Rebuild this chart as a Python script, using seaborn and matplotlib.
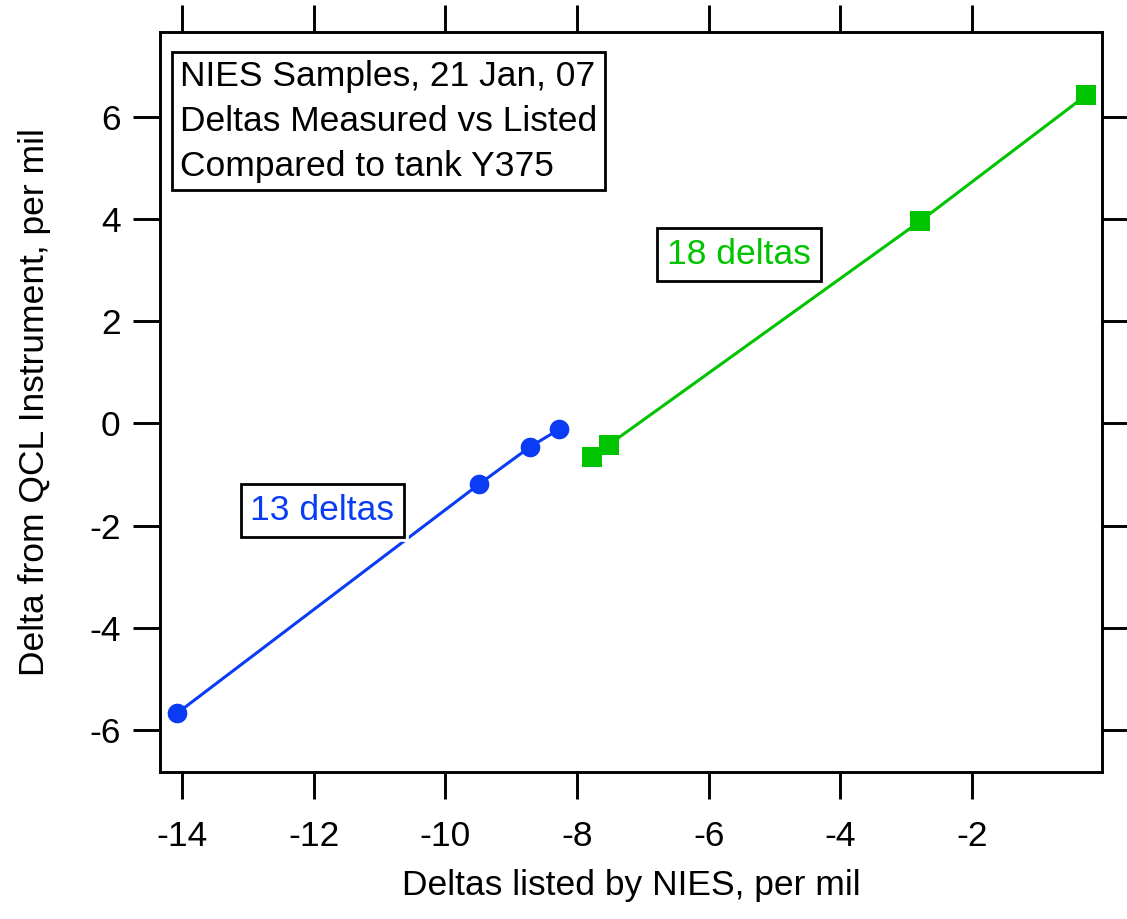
import matplotlib
matplotlib.use("Agg")
import matplotlib.pyplot as plt
import seaborn as sns
import pandas as pd

# NIES sample deltas: listed value vs value measured by the QCL instrument
blue_x = [-14.08, -9.49, -8.71, -8.27]
blue_y = [-5.67, -1.19, -0.455, -0.115]
green_x = [-7.77, -7.52, -2.78, -0.26]
green_y = [-0.665, -0.42, 3.96, 6.42]

x_ticks = [-14, -12, -10, -8, -6, -4, -2]
y_ticks = [-6, -4, -2, 0, 2, 4, 6]

info_text = "NIES Samples, 21 Jan, 07\nDeltas Measured vs Listed\nCompared to tank Y375"
blue_label = "13 deltas"
green_label = "18 deltas"

BLUE = "#0A3CF5"
GREEN = "#00C400"
FS = 25.5

sns.set_theme(style="white")
plt.rcParams["font.family"] = ["Liberation Sans", "DejaVu Sans"]
plt.rcParams["axes.unicode_minus"] = False

fig = plt.figure(figsize=(11.27, 9.19), dpi=100)
W, H = 1127, 919
ax = fig.add_axes([160 / W, 1 - 772 / H, (1102 - 160) / W, (772 - 32) / H])

blue_df = pd.DataFrame({"x": blue_x, "y": blue_y})
green_df = pd.DataFrame({"x": green_x, "y": green_y})

sns.lineplot(data=blue_df, x="x", y="y", sort=False, estimator=None,
             color=BLUE, linewidth=2.2, ax=ax, zorder=2)
sns.lineplot(data=green_df.iloc[1:], x="x", y="y", sort=False, estimator=None,
             color=GREEN, linewidth=2.2, ax=ax, zorder=2)
sns.scatterplot(data=blue_df, x="x", y="y", marker="o", s=200,
                color=BLUE, edgecolor=BLUE, linewidth=0, ax=ax, zorder=3)
sns.scatterplot(data=green_df, x="x", y="y", marker="s", s=210,
                color=GREEN, edgecolor=GREEN, linewidth=0, ax=ax, zorder=3)

ax.set_xlim(-14.34, -0.02)
ax.set_ylim(-6.82, 7.657)
ax.set_xticks(x_ticks)
ax.set_yticks(y_ticks)
ax.set_xticklabels([str(t) for t in x_ticks])
ax.set_yticklabels([str(t) for t in y_ticks])

for sp in ax.spines.values():
    sp.set_visible(True)
    sp.set_color("black")
    sp.set_linewidth(2.1)

ax.tick_params(axis="both", which="major", direction="out", length=19.5,
               width=2.1, color="black", labelsize=FS, labelcolor="black",
               top=True, right=True, bottom=True, left=True,
               labeltop=False, labelright=False)
ax.tick_params(axis="x", pad=15)
ax.tick_params(axis="y", pad=9)

ax.set_xlabel("Deltas listed by NIES, per mil", fontsize=FS, color="black")
ax.set_ylabel("Delta from QCL Instrument, per mil", fontsize=FS, color="black")
ax.xaxis.set_label_coords(0.5, (772 - 886) / 740)
ax.yaxis.set_label_coords((35 - 160) / 942, 0.5)
ax.xaxis.label.set_va("center")
ax.yaxis.label.set_va("center")

# info box in the upper-left corner
ax.text(0.0215, 0.962, info_text, transform=ax.transAxes, fontsize=FS,
        ha="left", va="top", linespacing=1.45, color="black", zorder=5,
        bbox=dict(boxstyle="square,pad=0.22", fc="white", ec="black", lw=2.0))

# series labels; the white halo keeps the line clear of the frame
for lx, ly, txt, col in [(-11.87, -1.70, blue_label, BLUE),
                         (-5.535, 3.31, green_label, GREEN)]:
    ax.text(lx, ly, txt, fontsize=FS, ha="center", va="center", color=col,
            zorder=4,
            bbox=dict(boxstyle="square,pad=0.28", fc="white", ec="white", lw=7))
    ax.text(lx, ly, txt, fontsize=FS, ha="center", va="center", color=col,
            zorder=5,
            bbox=dict(boxstyle="square,pad=0.28", fc="white", ec="black", lw=2.0))

fig.savefig("out.png", dpi=100, facecolor="white")
